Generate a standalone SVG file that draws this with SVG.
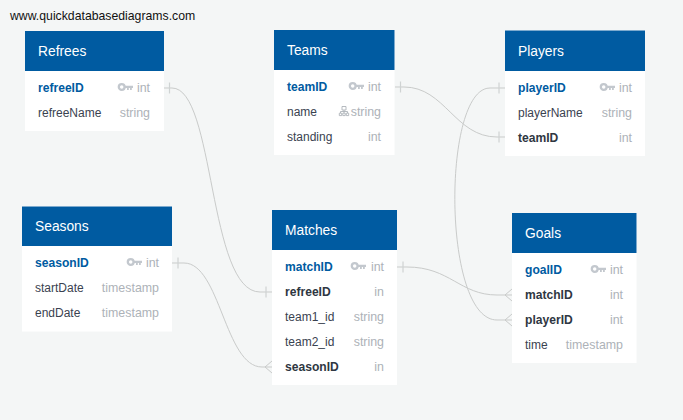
<svg xmlns="http://www.w3.org/2000/svg" width="683" height="420" viewBox="0 0 683 420">
<style>
text{font-family:"Liberation Sans",Arial,sans-serif;font-size:12px;fill:#3a4250}
.h{fill:#005ba1}.b{fill:#fff}
.t{font-size:13.800px;fill:#fff}
.pk{font-weight:bold;font-size:12.100px;fill:#005ba1}
.fk{font-weight:bold;font-size:12.100px;fill:#2f3742}
.ty{font-size:12.400px;fill:#adb2b8;text-anchor:end}
.c{fill:none;stroke:#c9cbca;stroke-width:1}
.m{fill:none;stroke:#cfd3d3;stroke-width:1.200}
.k{fill:#c3c8ce}
</style>
<defs>
<g id="key"><circle cx="3.700" cy="0" r="2.900" fill="none" stroke="#c3c8ce" stroke-width="2.300"/><path class="k" d="M6 -1.300H15V0.900H13.800V3H12V0.900H10.800V3H9V0.900H6Z"/></g>
</defs>
<rect width="683" height="420" fill="#f4f6f6"/>
<text x="10" y="20" style="font-size:12.250px;fill:#111">www.quickdatabasediagrams.com</text>
<g id="connectors">
<path class="c" d="M164 88H172C215 88 208 292 260 292H272"/>
<path class="c" d="M395 87H404C445 87 455 137 497 137H505"/>
<path class="c" d="M505 88H490C442 88 442 320 497 320H512"/>
<path class="c" d="M172 263H184C220 263 225 367 262 367H272"/>
<path class="c" d="M397 267H407C450 267 460 295 497 295H512"/>
<path class="m" d="M169.500 82.500V93.500M266 286.500V297.500M400.500 81.500V92.500M499 131.500V142.500M499 82.500V93.500M178 257.500V268.500M403 261.500V272.500"/>
<path class="c" d="M505 295L512 289M505 295L512 301M505 320L512 314M505 320L512 326M265 367L272 361M265 367L272 373"/>
</g>
<g id="refrees">
<rect class="b" x="25" y="31" width="139" height="100"/><rect class="h" x="25" y="31" width="139" height="40"/>
<text class="t" x="38" y="56">Refrees</text>
<text class="pk" x="38" y="92">refreeID</text><use href="#key" x="118" y="87"/><text class="ty" x="150" y="92">int</text>
<text x="38" y="117">refreeName</text><text class="ty" x="150" y="117">string</text>
</g>
<g id="teams">
<rect class="b" x="274" y="30" width="120.500" height="125"/><rect class="h" x="274" y="30" width="120.500" height="40"/>
<text class="t" x="287" y="55">Teams</text>
<text class="pk" x="287" y="91">teamID</text><use href="#key" x="349" y="86"/><text class="ty" x="381" y="91">int</text>
<text x="287" y="116">name</text>
<path fill="none" stroke="#aeb3b9" stroke-width="0.900" d="M342 106.500h4v3.500h-4zM344 110v1.500M340.500 111.500h7M340.500 111.500v1.500M344 111.500v1.500M347.500 111.500v1.500M339.300 113.200h2.400v2.400h-2.400zM342.800 113.200h2.400v2.400h-2.400zM346.300 113.200h2.400v2.400h-2.400z"/>
<text class="ty" x="381" y="116">string</text>
<text x="287" y="141">standing</text><text class="ty" x="381" y="141">int</text>
</g>
<g id="players">
<rect class="b" x="505" y="30.500" width="140" height="125.500"/><rect class="h" x="505" y="30.500" width="140" height="40.500"/>
<text class="t" x="518" y="56">Players</text>
<text class="pk" x="518" y="92">playerID</text><use href="#key" x="600" y="87"/><text class="ty" x="632" y="92">int</text>
<text x="518" y="117">playerName</text><text class="ty" x="632" y="117">string</text>
<text class="fk" x="518" y="142">teamID</text><text class="ty" x="632" y="142">int</text>
</g>
<g id="seasons">
<rect class="b" x="22" y="206.500" width="150" height="125"/><rect class="h" x="22" y="206.500" width="150" height="39.500"/>
<text class="t" x="35" y="231">Seasons</text>
<text class="pk" x="35" y="267">seasonID</text><use href="#key" x="127" y="262"/><text class="ty" x="159" y="267">int</text>
<text x="35" y="292">startDate</text><text class="ty" x="159" y="292">timestamp</text>
<text x="35" y="317">endDate</text><text class="ty" x="159" y="317">timestamp</text>
</g>
<g id="matches">
<rect class="b" x="272" y="210" width="125" height="175"/><rect class="h" x="272" y="210" width="125" height="40"/>
<text class="t" x="285" y="235">Matches</text>
<text class="pk" x="285" y="271">matchID</text><use href="#key" x="351" y="266"/><text class="ty" x="384" y="271">int</text>
<text class="fk" x="285" y="296">refreeID</text><text class="ty" x="384" y="296">in</text>
<text x="285" y="321">team1_id</text><text class="ty" x="384" y="321">string</text>
<text x="285" y="346">team2_id</text><text class="ty" x="384" y="346">string</text>
<text class="fk" x="285" y="371">seasonID</text><text class="ty" x="384" y="371">in</text>
</g>
<g id="goals">
<rect class="b" x="512" y="213" width="124.500" height="150"/><rect class="h" x="512" y="213" width="124.500" height="40"/>
<text class="t" x="525" y="238">Goals</text>
<text class="pk" x="525" y="274">goalID</text><use href="#key" x="591" y="269"/><text class="ty" x="623" y="274">int</text>
<text class="fk" x="525" y="299">matchID</text><text class="ty" x="623" y="299">int</text>
<text class="fk" x="525" y="324">playerID</text><text class="ty" x="623" y="324">int</text>
<text x="525" y="349">time</text><text class="ty" x="623" y="349">timestamp</text>
</g>
</svg>
